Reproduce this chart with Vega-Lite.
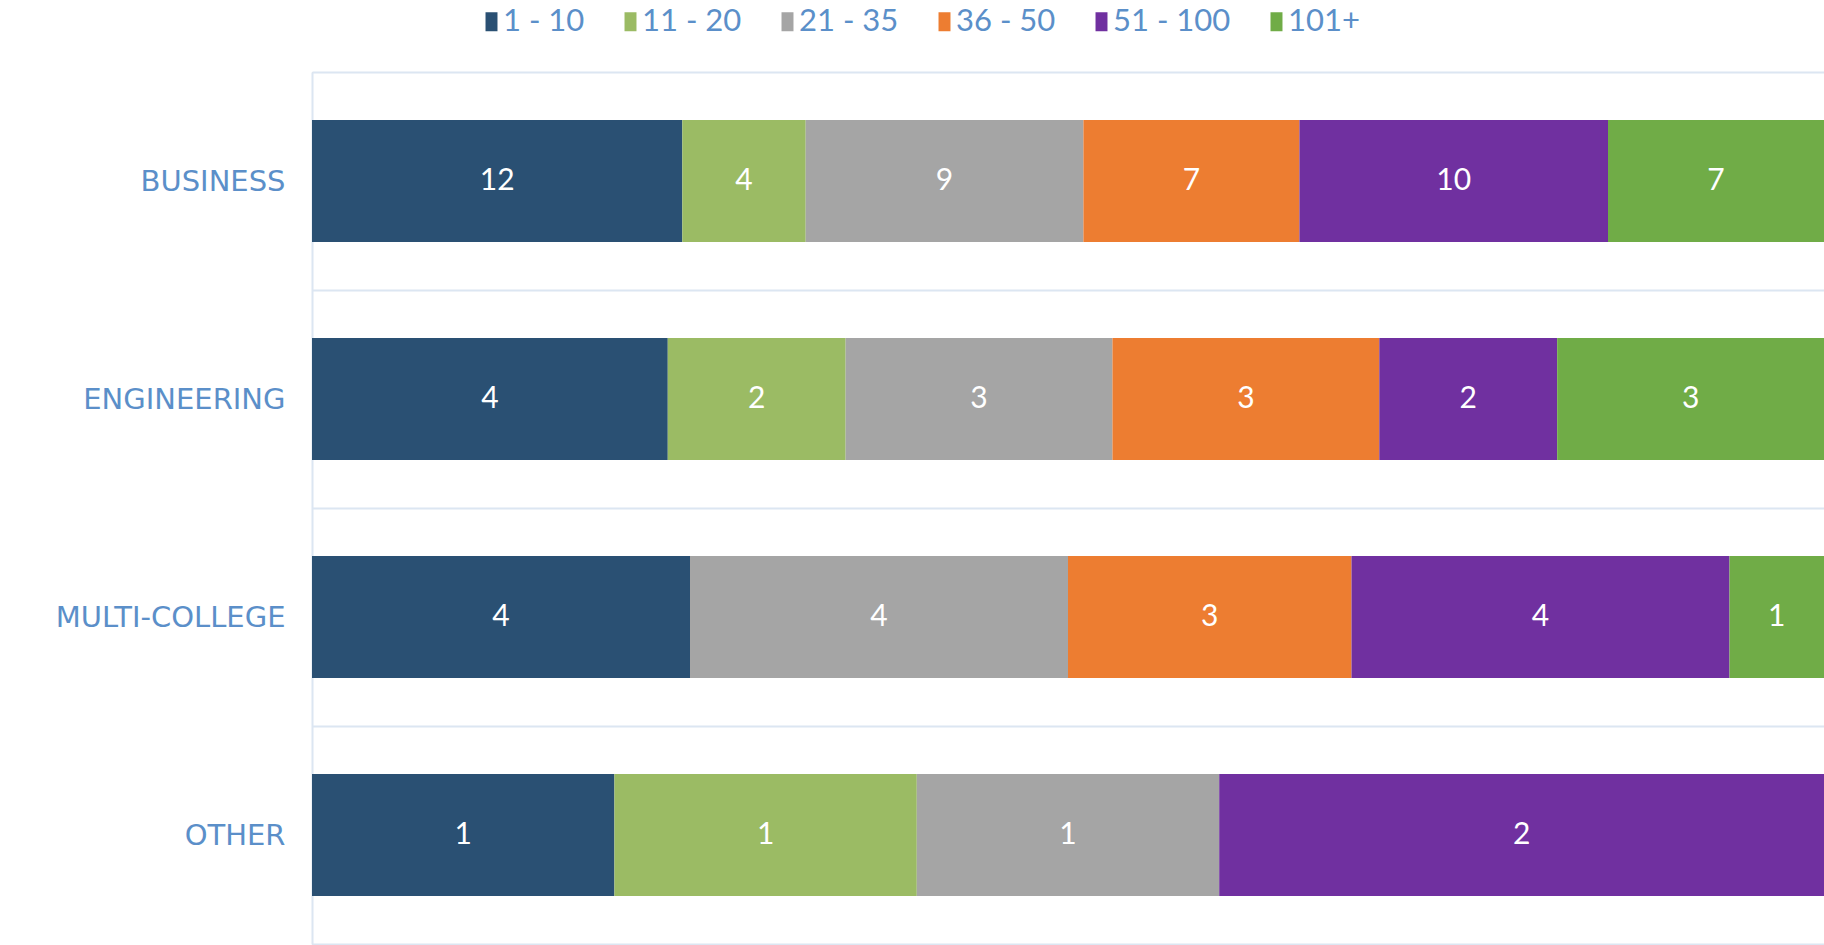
{
  "$schema": "https://vega.github.io/schema/vega-lite/v6.json",
  "autosize": "none",
  "width": 1512,
  "height": 872,
  "padding": {"left": 312, "top": 72, "right": 0, "bottom": 1},
  "background": "white",
  "data": {
    "values": [
      {"college": "BUSINESS", "size": "1 - 10", "order": 1, "count": 12},
      {"college": "BUSINESS", "size": "11 - 20", "order": 2, "count": 4},
      {"college": "BUSINESS", "size": "21 - 35", "order": 3, "count": 9},
      {"college": "BUSINESS", "size": "36 - 50", "order": 4, "count": 7},
      {"college": "BUSINESS", "size": "51 - 100", "order": 5, "count": 10},
      {"college": "BUSINESS", "size": "101+", "order": 6, "count": 7},
      {"college": "ENGINEERING", "size": "1 - 10", "order": 1, "count": 4},
      {"college": "ENGINEERING", "size": "11 - 20", "order": 2, "count": 2},
      {"college": "ENGINEERING", "size": "21 - 35", "order": 3, "count": 3},
      {"college": "ENGINEERING", "size": "36 - 50", "order": 4, "count": 3},
      {"college": "ENGINEERING", "size": "51 - 100", "order": 5, "count": 2},
      {"college": "ENGINEERING", "size": "101+", "order": 6, "count": 3},
      {"college": "MULTI-COLLEGE", "size": "1 - 10", "order": 1, "count": 4},
      {"college": "MULTI-COLLEGE", "size": "21 - 35", "order": 3, "count": 4},
      {"college": "MULTI-COLLEGE", "size": "36 - 50", "order": 4, "count": 3},
      {"college": "MULTI-COLLEGE", "size": "51 - 100", "order": 5, "count": 4},
      {"college": "MULTI-COLLEGE", "size": "101+", "order": 6, "count": 1},
      {"college": "OTHER", "size": "1 - 10", "order": 1, "count": 1},
      {"college": "OTHER", "size": "11 - 20", "order": 2, "count": 1},
      {"college": "OTHER", "size": "21 - 35", "order": 3, "count": 1},
      {"college": "OTHER", "size": "51 - 100", "order": 5, "count": 2}
    ]
  },
  "encoding": {
    "y": {
      "field": "college",
      "type": "nominal",
      "sort": ["BUSINESS", "ENGINEERING", "MULTI-COLLEGE", "OTHER"],
      "scale": {"paddingInner": 0, "paddingOuter": 0},
      "axis": {
        "title": null,
        "ticks": false,
        "grid": true,
        "tickBand": "extent",
        "gridColor": "#dce6f2",
        "gridWidth": 2,
        "domain": true,
        "domainColor": "#dce6f2",
        "domainWidth": 2,
        "labelPadding": 27,
        "labelLimit": 0,
        "labelFont": "DejaVu Sans",
        "labelFontSize": 29,
        "labelColor": "#5b8fc9",
        "labelFontWeight": "normal"
      }
    },
    "x": {
      "field": "count",
      "type": "quantitative",
      "stack": "normalize",
      "scale": {"domain": [0, 1], "nice": false},
      "axis": null
    },
    "order": {"field": "order", "type": "quantitative"}
  },
  "layer": [
    {
      "mark": {"type": "bar", "stroke": null, "height": {"band": 0.56}},
      "encoding": {
        "color": {
          "field": "size",
          "type": "nominal",
          "scale": {
            "domain": ["1 - 10", "11 - 20", "21 - 35", "36 - 50", "51 - 100", "101+"],
            "range": ["#2a5073", "#9bbb64", "#a5a5a5", "#ed7d31", "#7030a0", "#70ac47"]
          },
          "legend": {
            "title": null,
            "orient": "none",
            "direction": "horizontal",
            "legendX": 164,
            "legendY": -66,
            "symbolType": "M-0.63,-1H0.63V1H-0.63Z",
            "symbolSize": 361,
            "symbolStrokeWidth": 0,
            "symbolOpacity": 1,
            "labelFont": "Lato",
            "labelFontSize": 31,
            "labelColor": "#5b8fc9",
            "labelOffset": -4,
            "columnPadding": 30
          }
        }
      }
    },
    {
      "mark": {"type": "text", "color": "white", "font": "Lato", "fontSize": 30, "baseline": "middle", "align": "center"},
      "encoding": {
        "x": {"field": "count", "type": "quantitative", "stack": "normalize", "bandPosition": 0.5},
        "text": {"field": "count", "type": "quantitative"}
      }
    }
  ]
}
